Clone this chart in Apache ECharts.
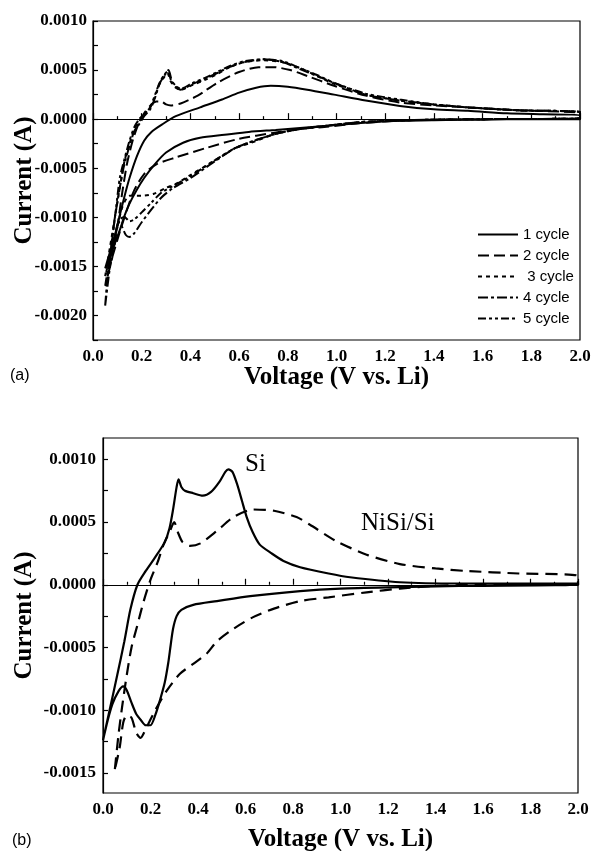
<!DOCTYPE html>
<html><head><meta charset="utf-8">
<script src="https://cdn.jsdelivr.net/npm/echarts@6/dist/echarts.min.js"></script>
<style>html,body{margin:0;padding:0;background:#fff}#c{width:593px;height:851px}</style>
</head><body><div id="c"></div>
<script>
// ---- Panel (a): CV cycles, [voltage V, current A] ----
const cycle1 = [[0.05,-0.00152],[0.07,-0.00135],[0.09,-0.00118],[0.11,-0.00098],[0.13,-0.00078],[0.15,-0.0006],[0.18,-0.00038],[0.21,-0.00022],[0.24,-0.00013],[0.28,-0.00006],[0.34,0.00003],[0.44,0.00012],[0.53,0.0002],[0.6,0.00027],[0.67,0.00032],[0.73,0.00034],[0.8,0.00033],[0.88,0.0003],[0.99,0.00025],[1.12,0.00019],[1.26,0.000135],[1.4,0.0001],[1.54,0.000085],[1.7,0.00006],[1.85,0.00005],[2.0,0.00004],
  [2.0,0.0],[1.8,0.0],[1.6,-0.000005],[1.4,-0.00001],[1.26,-0.000017],[1.1,-0.00004],[0.95,-0.00007],[0.85,-0.00009],[0.75,-0.00011],[0.64,-0.00013],[0.54,-0.00016],[0.44,-0.00019],[0.37,-0.00024],[0.3,-0.00034],[0.25,-0.00047],[0.21,-0.0006],[0.18,-0.00072],[0.15,-0.00086],[0.13,-0.00098],[0.11,-0.00113],[0.085,-0.0013],[0.065,-0.00145],[0.05,-0.00152]];
const cycle2 = [[0.06,-0.0016],[0.08,-0.0014],[0.1,-0.0011],[0.12,-0.00075],[0.14,-0.00045],[0.165,-0.0002],[0.19,-0.00003],[0.21,0.00006],[0.24,0.00015],[0.26,0.00018],[0.28,0.00018],[0.3,0.00015],[0.32,0.00014],[0.36,0.00016],[0.43,0.00024],[0.51,0.00037],[0.6,0.00048],[0.68,0.00053],[0.74,0.00053],[0.81,0.0005],[0.88,0.00044],[0.99,0.00034],[1.12,0.00024],[1.26,0.00017],[1.4,0.00014],[1.54,0.00012],[1.75,0.00009],[2.0,0.00006],
  [2.0,0.00001],[1.6,0.0],[1.3,-0.00001],[1.1,-0.00004],[0.95,-0.00008],[0.85,-0.0001],[0.74,-0.00014],[0.6,-0.0002],[0.47,-0.00029],[0.34,-0.00039],[0.26,-0.00046],[0.21,-0.00056],[0.17,-0.00072],[0.14,-0.00092],[0.11,-0.00115],[0.08,-0.0014],[0.06,-0.0016]];
const cycle3 = [[0.05,-0.0016],[0.07,-0.0013],[0.09,-0.001],[0.11,-0.0007],[0.13,-0.00042],[0.15,-0.00025],[0.17,-0.0001],[0.19,-0.00002],[0.21,0.00005],[0.23,0.0001],[0.25,0.0002],[0.27,0.00034],[0.29,0.00042],[0.305,0.00047],[0.32,0.00038],[0.34,0.00032],[0.36,0.0003],[0.41,0.00035],[0.46,0.0004],[0.51,0.00046],[0.56,0.00053],[0.62,0.00058],[0.7,0.0006],[0.78,0.00058],[0.85,0.00052],[0.92,0.00044],[0.99,0.00036],[1.12,0.00025],[1.26,0.00019],[1.4,0.00015],[1.54,0.00012],[1.75,0.00009],[2.0,0.00007],
  [2.0,0.00001],[1.6,0.0],[1.3,-0.00001],[1.1,-0.00003],[0.95,-0.00007],[0.85,-0.0001],[0.75,-0.00015],[0.65,-0.00024],[0.58,-0.0003],[0.5,-0.00042],[0.4,-0.00057],[0.34,-0.00066],[0.3,-0.0007],[0.25,-0.00076],[0.2,-0.00078],[0.15,-0.00078],[0.12,-0.0009],[0.1,-0.0011],[0.08,-0.0013],[0.06,-0.0015],[0.05,-0.0016]];
const cycle4 = [[0.05,-0.0019],[0.06,-0.0016],[0.075,-0.0013],[0.09,-0.001],[0.11,-0.0007],[0.125,-0.0005],[0.15,-0.00027],[0.17,-0.00012],[0.19,-0.00005],[0.21,0.00003],[0.235,0.0001],[0.255,0.00022],[0.275,0.00037],[0.295,0.00045],[0.31,0.0005],[0.325,0.00038],[0.34,0.00033],[0.36,0.0003],[0.41,0.00036],[0.46,0.00041],[0.51,0.00047],[0.56,0.00053],[0.62,0.00058],[0.7,0.00061],[0.78,0.00058],[0.85,0.00051],[0.92,0.00044],[0.99,0.00037],[1.12,0.00025],[1.26,0.00019],[1.4,0.00015],[1.54,0.00012],[1.75,0.00009],[2.0,0.00007],
  [2.0,0.00001],[1.6,0.0],[1.3,-0.00001],[1.1,-0.00003],[0.95,-0.00007],[0.85,-0.0001],[0.75,-0.00015],[0.65,-0.00023],[0.58,-0.0003],[0.5,-0.00043],[0.4,-0.0006],[0.33,-0.0007],[0.28,-0.0008],[0.24,-0.00092],[0.2,-0.00105],[0.17,-0.00116],[0.15,-0.0012],[0.135,-0.00118],[0.12,-0.0011],[0.105,-0.00105],[0.09,-0.0012],[0.07,-0.0015],[0.05,-0.0019]];
const cycle5 = [[0.05,-0.0017],[0.065,-0.0015],[0.08,-0.0012],[0.095,-0.0009],[0.11,-0.0006],[0.13,-0.0004],[0.15,-0.00022],[0.17,-0.00008],[0.19,0.0],[0.21,0.00005],[0.235,0.00012],[0.255,0.00025],[0.275,0.00038],[0.295,0.00046],[0.308,0.00049],[0.32,0.0004],[0.34,0.00034],[0.36,0.00031],[0.41,0.00037],[0.46,0.00042],[0.51,0.00048],[0.56,0.00054],[0.62,0.00059],[0.7,0.00061],[0.78,0.00059],[0.85,0.00052],[0.92,0.00045],[0.99,0.00037],[1.12,0.00026],[1.26,0.0002],[1.4,0.00015],[1.54,0.00012],[1.75,0.00009],[2.0,0.00007],
  [2.0,0.00001],[1.6,0.0],[1.3,-0.00001],[1.1,-0.00003],[0.95,-0.00007],[0.85,-0.0001],[0.75,-0.00015],[0.65,-0.00023],[0.58,-0.0003],[0.5,-0.00042],[0.4,-0.00058],[0.33,-0.00068],[0.28,-0.00075],[0.24,-0.00085],[0.2,-0.00095],[0.17,-0.00102],[0.15,-0.00104],[0.13,-0.001],[0.11,-0.00102],[0.09,-0.0012],[0.07,-0.0014],[0.05,-0.0017]];
const cycleNames = ['1 cycle','2 cycle',' 3 cycle','4 cycle','5 cycle'];

// ---- Panel (b): Si vs NiSi/Si ----
const siCurve = [[0.0,-0.00124],[0.03,-0.00098],[0.06,-0.00072],[0.09,-0.00045],[0.115,-0.0002],[0.145,0.0],[0.18,0.00011],[0.22,0.00022],[0.26,0.00034],[0.28,0.00045],[0.295,0.0006],[0.31,0.00078],[0.318,0.00084],[0.33,0.00078],[0.345,0.00075],[0.38,0.00073],[0.42,0.00071],[0.455,0.00074],[0.49,0.00082],[0.515,0.0009],[0.528,0.00092],[0.545,0.0009],[0.565,0.0008],[0.585,0.00067],[0.605,0.00054],[0.63,0.00042],[0.66,0.00032],[0.71,0.00025],[0.76,0.00019],[0.83,0.00014],[0.95,0.00009],[1.04,0.00006],[1.25,0.00002],[1.5,0.00001],[2.0,0.00001],
  [2.0,0.0],[1.5,-0.00001],[1.2,-0.00002],[1.0,-0.00003],[0.83,-0.00005],[0.62,-0.00009],[0.48,-0.00013],[0.38,-0.00016],[0.33,-0.0002],[0.31,-0.00025],[0.295,-0.00035],[0.285,-0.00048],[0.275,-0.00062],[0.26,-0.00078],[0.24,-0.00092],[0.22,-0.00104],[0.2,-0.00112],[0.18,-0.00112],[0.16,-0.00108],[0.14,-0.00103],[0.12,-0.00094],[0.1,-0.00084],[0.085,-0.00081],[0.065,-0.00085],[0.04,-0.00095],[0.02,-0.00108],[0.0,-0.00124]];
const nisiCurve = [[0.05,-0.00147],[0.065,-0.0012],[0.08,-0.00098],[0.1,-0.00072],[0.12,-0.0005],[0.145,-0.00032],[0.17,-0.00014],[0.2,0.00004],[0.23,0.00018],[0.255,0.00032],[0.28,0.00042],[0.3,0.0005],[0.315,0.00042],[0.335,0.00034],[0.366,0.00031],[0.41,0.00033],[0.48,0.00043],[0.55,0.00054],[0.63,0.0006],[0.72,0.00059],[0.815,0.00054],[0.87,0.00048],[0.98,0.00035],[1.11,0.00024],[1.25,0.000165],[1.4,0.00013],[1.53,0.00011],[1.75,0.00009],[2.0,0.00007],
  [2.0,0.0],[1.6,0.0],[1.39,-0.00001],[1.25,-0.00003],[1.11,-0.00006],[0.95,-0.0001],[0.83,-0.00013],[0.72,-0.00019],[0.63,-0.00026],[0.55,-0.00035],[0.48,-0.00045],[0.436,-0.00055],[0.38,-0.00063],[0.324,-0.00071],[0.27,-0.00084],[0.22,-0.001],[0.18,-0.00115],[0.158,-0.00122],[0.14,-0.00118],[0.12,-0.00106],[0.1,-0.00104],[0.085,-0.0011],[0.07,-0.0013],[0.05,-0.00147]];

// ---- tick values ----
const yLabelsA = [-0.002,-0.0015,-0.001,-0.0005,0,0.0005,0.001];
const yTicksA = [-0.00225,-0.002,-0.00175,-0.0015,-0.00125,-0.001,-0.00075,-0.0005,-0.00025,0,0.00025,0.0005,0.00075,0.001];
const yLabelsB = [-0.0015,-0.001,-0.0005,0,0.0005,0.001];
const yTicksB = [-0.0015,-0.00125,-0.001,-0.00075,-0.0005,-0.00025,0,0.00025,0.0005,0.00075,0.001];

const serif = 'Liberation Serif';
const tickFont = {fontFamily: serif, fontWeight: 'bold', fontSize: 17, color: '#000'};
const nameFont = {fontFamily: serif, fontWeight: 'bold', fontSize: 25, color: '#000'};

function xAxis(gi, gap) {
  return {type:'value', gridIndex: gi, min: 0, max: 2, interval: 0.2,
    axisLine:{show:true, lineStyle:{color:'#000', width:1.2}},
    axisTick:{show:true, inside:true, length:6, lineStyle:{color:'#000', width:1.2}},
    minorTick:{show:true, splitNumber:2, length:3, lineStyle:{color:'#000', width:1.2}},
    splitLine:{show:false},
    axisLabel:{...tickFont, margin: 8, formatter: v => v.toFixed(1)},
    name:'Voltage (V vs. Li)', nameLocation:'middle', nameGap: gap, nameMoveOverlap:false, nameTextStyle: nameFont};
}
function yAxis(gi, min, max, labels, ticks, gap, margin) {
  return {type:'value', gridIndex: gi, min, max,
    axisLine:{show:true, lineStyle:{color:'#000', width:1.2}},
    axisTick:{show:true, inside:true, length:5, customValues: ticks, lineStyle:{color:'#000', width:1.2}},
    splitLine:{show:false},
    axisLabel:{...tickFont, margin, customValues: labels, formatter: v => v.toFixed(4)},
    name:'Current (A)', nameLocation:'middle', nameGap: gap, nameMoveOverlap:false, nameTextStyle: nameFont};
}
const dashes = ['solid',[11,5],[4,4],[10,3,3,3],[8,3,3,3,3,3]];
const cycles = [cycle1,cycle2,cycle3,cycle4,cycle5];

const series = cycles.map((d,i) => ({
  name: cycleNames[i], type:'line', xAxisIndex:0, yAxisIndex:0, data:d,
  showSymbol:false, symbol:'none', smooth:0.25, animation:false,
  lineStyle:{color:'#000', width:2, type: dashes[i]}, itemStyle:{color:'#000'}
}));
series.push({name:'Si', type:'line', xAxisIndex:1, yAxisIndex:1, data: siCurve, showSymbol:false, symbol:'none', smooth:0.25, animation:false,
  lineStyle:{color:'#000', width:2.2, type:'solid'}});
series.push({name:'NiSi/Si', type:'line', xAxisIndex:1, yAxisIndex:1, data: nisiCurve, showSymbol:false, symbol:'none', smooth:0.25, animation:false,
  lineStyle:{color:'#000', width:2.2, type:[12,7]}});

const chart = echarts.init(document.getElementById('c'), null, {renderer:'canvas'});
chart.setOption({
  backgroundColor:'#fff',
  animation:false,
  grid:[
    {left:93, top:21, width:487, height:319, show:true, borderColor:'#000', borderWidth:1.2, containLabel:false, outerBoundsMode:'none'},
    {left:103, top:438, width:475, height:355, show:true, borderColor:'#000', borderWidth:1.2, containLabel:false, outerBoundsMode:'none'}
  ],
  xAxis:[xAxis(0, 25), xAxis(1, 34)],
  yAxis:[yAxis(0, -0.00225, 0.001, yLabelsA, yTicksA, 56, 6), yAxis(1, -0.00166, 0.00117, yLabelsB, yTicksB, 66, 7)],
  legend:{data: cycleNames, orient:'vertical', left:472, top:222, itemWidth:40, itemHeight:14, itemGap:6,
    selectedMode:false,
    itemStyle:{opacity:0, color:'transparent', borderWidth:0},
    textStyle:{fontFamily:'Liberation Sans', fontSize:15, color:'#000'}},
  graphic:[
    {type:'text', left:10, top:368, style:{text:'(a)', font:'16px "Liberation Sans"', fill:'#000'}},
    {type:'text', left:12, top:833, style:{text:'(b)', font:'16px "Liberation Sans"', fill:'#000'}},
    {type:'text', left:245, top:452, style:{text:'Si', font:'25px "Liberation Serif"', fill:'#000'}},
    {type:'text', left:361, top:511, style:{text:'NiSi/Si', font:'25px "Liberation Serif"', fill:'#000'}}
  ],
  series
});
</script></body></html>
